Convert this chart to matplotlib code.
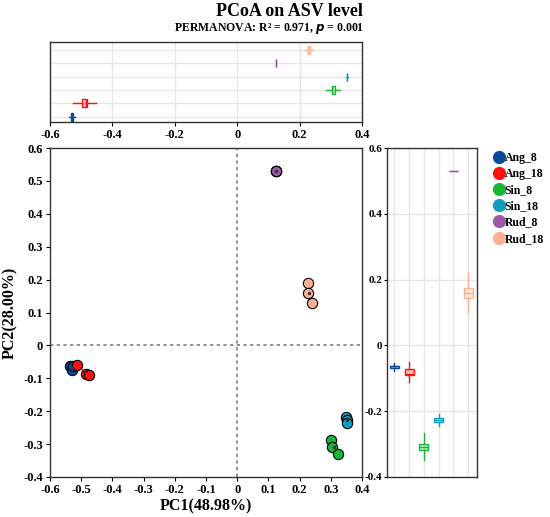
import numpy as np
import matplotlib.pyplot as plt
from matplotlib.ticker import FuncFormatter, MultipleLocator

plt.rcParams['font.family'] = ['Liberation Serif', 'DejaVu Serif']
plt.rcParams['font.weight'] = 'bold'

groups = ['Ang_8', 'Ang_18', 'Sin_8', 'Sin_18', 'Rud_8', 'Rud_18']
colors = ['#0b4a98', '#ff1010', '#17b53a', '#0f9dbf', '#9b59a8', '#fbb091']

# PC1 / PC2 scores, three samples per group
pc1 = {
    'Ang_8': [-0.535, -0.528, -0.525],
    'Ang_18': [-0.513, -0.484, -0.476],
    'Sin_8': [0.300, 0.305, 0.322],
    'Sin_18': [0.350, 0.353, 0.352],
    'Rud_8': [0.124, 0.125, 0.124],
    'Rud_18': [0.228, 0.226, 0.240],
}
pc2 = {
    'Ang_8': [-0.062, -0.074, -0.064],
    'Ang_18': [-0.059, -0.087, -0.090],
    'Sin_8': [-0.288, -0.309, -0.329],
    'Sin_18': [-0.218, -0.226, -0.237],
    'Rud_8': [0.530, 0.529, 0.530],
    'Rud_18': [0.189, 0.159, 0.128],
}


def fmt(v, pos):
    v = round(v, 1)
    if abs(v) < 1e-9:
        return '0'
    return f'{v:g}'


def box_stats(vals):
    q1, med, q3 = np.percentile(vals, [25, 50, 75])
    iqr = q3 - q1
    return dict(q1=q1, med=med, q3=q3, whislo=q1 - 1.5 * iqr,
                whishi=q3 + 1.5 * iqr, fliers=[])


fig = plt.figure(figsize=(5.5, 5.17), dpi=100)
ax = fig.add_axes([0.0909, 0.0774, 0.5673, 0.6363])
ax_top = fig.add_axes([0.0909, 0.764, 0.5673, 0.155])
ax_r = fig.add_axes([0.7036, 0.0774, 0.1637, 0.6363])

# main scatter with spider lines
for g, c in zip(groups, colors):
    x = np.array(pc1[g])
    y = np.array(pc2[g])
    cx, cy = x.mean(), y.mean()
    for xi, yi in zip(x, y):
        ax.plot([cx, xi], [cy, yi], color=c, lw=0.8, zorder=2)
    ax.scatter(x, y, s=55, color=c, edgecolor='black', linewidth=0.8, zorder=3)
    ax.scatter([cx], [cy], s=2, color='#333333', zorder=4)

ax.axvline(0, color='#808080', ls=(0, (2, 2)), lw=1.2, zorder=1)
ax.axhline(0, color='#808080', ls=(0, (2, 2)), lw=1.2, zorder=1)
ax.set_xlim(-0.6, 0.4)
ax.set_ylim(-0.4, 0.6)
ax.xaxis.set_major_locator(MultipleLocator(0.1))
ax.yaxis.set_major_locator(MultipleLocator(0.1))
ax.xaxis.set_major_formatter(FuncFormatter(fmt))
ax.yaxis.set_major_formatter(FuncFormatter(fmt))
ax.tick_params(labelsize=9, length=3, pad=2)
ax.set_xlabel('PC1(48.98%)', fontsize=11.5, fontweight='bold', labelpad=2)
ax.set_ylabel('PC2(28.00%)', fontsize=11.5, fontweight='bold', labelpad=4)
for s in ax.spines.values():
    s.set_linewidth(1.0)
    s.set_color('#333333')


def draw_boxes(a, data, vert):
    pos = np.arange(1, len(groups) + 1)
    for p, g, c in zip(pos, groups, colors):
        st = box_stats(data[g])
        a.bxp([st], positions=[p], widths=0.6, vert=vert, showcaps=False,
              showfliers=False, patch_artist=True,
              boxprops=dict(facecolor=c + '40', edgecolor=c, linewidth=1.0),
              whiskerprops=dict(color=c, linewidth=1.0),
              medianprops=dict(color=c, linewidth=1.0))
    return pos


# top boxplot of PC1
pos = draw_boxes(ax_top, pc1, False)
ax_top.set_xlim(-0.6, 0.4)
ax_top.set_ylim(0.6, 6.6)
ax_top.xaxis.set_major_locator(MultipleLocator(0.2))
ax_top.xaxis.set_major_formatter(FuncFormatter(fmt))
ax_top.set_yticks(pos)
ax_top.set_yticklabels([])
ax_top.tick_params(axis='y', length=0)
ax_top.tick_params(axis='x', labelsize=9, length=3, pad=2)
ax_top.grid(True, color='#e6e6e6', lw=1.0)
ax_top.set_axisbelow(True)

# right boxplot of PC2
pos = draw_boxes(ax_r, pc2, True)
ax_r.set_ylim(-0.4, 0.6)
ax_r.set_xlim(0.5, 6.6)
ax_r.yaxis.set_major_locator(MultipleLocator(0.2))
ax_r.yaxis.set_major_formatter(FuncFormatter(fmt))
ax_r.set_xticks(pos)
ax_r.set_xticklabels([])
ax_r.tick_params(axis='x', length=0)
ax_r.tick_params(axis='y', labelsize=8, length=2.5, pad=1)
ax_r.grid(True, color='#e6e6e6', lw=1.0)
ax_r.set_axisbelow(True)

for a in (ax_top, ax_r):
    for s in a.spines.values():
        s.set_linewidth(1.0)
        s.set_color('#333333')

# legend
handles = [plt.Line2D([], [], ls='', marker='o', ms=8.5, color=c) for c in colors]
fig.legend(handles, groups, loc='upper left', bbox_to_anchor=(0.888, 0.715),
           frameon=False, fontsize=8.5, handletextpad=0.0, labelspacing=0.35,
           borderaxespad=0, handlelength=1.0)

fig.text(0.66, 0.977, 'PCoA on ASV level', ha='right', va='center',
         fontsize=13, fontweight='bold')
fig.text(0.663, 0.944, r'PERMANOVA: R² = 0.971, $\mathbf{\it{p}}$ = 0.001',
         ha='right', va='center', fontsize=8.5, fontweight='bold')

fig.savefig('out.png', dpi=100)
